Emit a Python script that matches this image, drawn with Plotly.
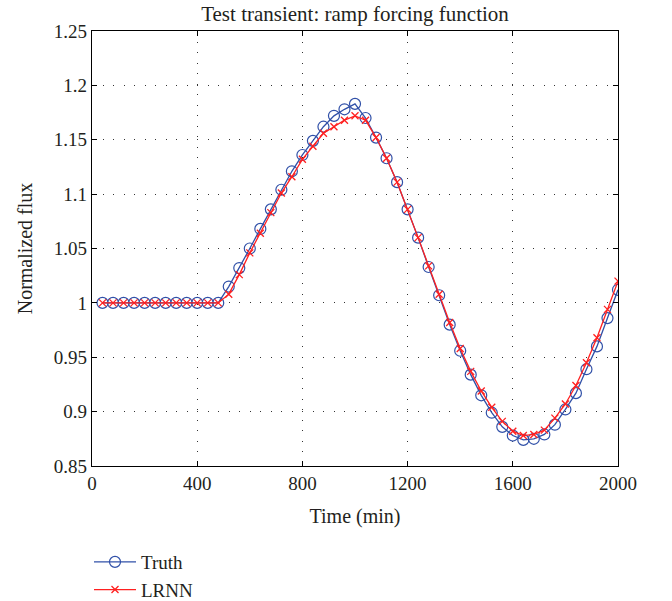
import plotly.graph_objects as go

time = [40, 80, 120, 160, 200, 240, 280, 320, 360, 400, 440, 480,
        520, 560, 600, 640, 680, 720, 760, 800, 840, 880, 920, 960, 1000,
        1040, 1080, 1120, 1160, 1200, 1240, 1280, 1320, 1360, 1400, 1440,
        1480, 1520, 1560, 1600, 1640, 1680, 1720, 1760, 1800, 1840, 1880,
        1920, 1960, 2000]

truth = [1.0, 1.0, 1.0, 1.0, 1.0, 1.0, 1.0, 1.0, 1.0, 1.0, 1.0, 1.0,
         1.015, 1.032, 1.050, 1.068, 1.086, 1.104, 1.121, 1.136, 1.149, 1.162, 1.172, 1.178, 1.183,
         1.170, 1.152, 1.133, 1.111, 1.086, 1.060, 1.033, 1.007, 0.980, 0.956, 0.934,
         0.915, 0.899, 0.886, 0.878, 0.874, 0.875, 0.879, 0.888, 0.902, 0.917, 0.939,
         0.960, 0.986, 1.012]

lrnn = [1.0, 1.0, 1.0, 1.0, 1.0, 1.0, 1.0, 1.0, 1.0, 1.0, 1.0, 1.0,
        1.008, 1.026, 1.046, 1.064, 1.083, 1.101, 1.116, 1.132, 1.144, 1.156, 1.162, 1.168, 1.172,
        1.168, 1.152, 1.133, 1.111, 1.086, 1.060, 1.034, 1.008, 0.982, 0.958, 0.937,
        0.919, 0.904, 0.891, 0.882, 0.878, 0.879, 0.883, 0.894, 0.907, 0.924, 0.945,
        0.968, 0.994, 1.020]

x_ticks = [0, 400, 800, 1200, 1600, 2000]
y_ticks = [0.85, 0.9, 0.95, 1.0, 1.05, 1.1, 1.15, 1.2, 1.25]
y_tick_labels = ["0.85", "0.9", "0.95", "1", "1.05", "1.1", "1.15", "1.2", "1.25"]

FONT = "Liberation Serif"
TXT = "#231F20"
BLUE = "#3050A8"
RED = "#FF2020"

fig = go.Figure()
fig.add_trace(go.Scatter(
    x=time, y=truth, name="Truth", mode="lines+markers",
    line=dict(color=BLUE, width=1.3),
    marker=dict(symbol="circle-open", size=11, color=BLUE, line=dict(width=1.2)),
))
fig.add_trace(go.Scatter(
    x=time, y=lrnn, name="LRNN", mode="lines+markers",
    line=dict(color=RED, width=1.3),
    marker=dict(symbol="x-thin-open", size=7, color=RED, line=dict(width=1.3, color=RED)),
))

axis_common = dict(
    showline=True, linecolor="black", linewidth=1.3, mirror="ticks",
    ticks="inside", ticklen=5, tickcolor="black", tickwidth=1,
    showgrid=True, gridcolor="#333333", griddash="1px,9.5px", gridwidth=1.3,
    zeroline=False,
    tickfont=dict(family=FONT, size=19, color=TXT),
)

fig.update_xaxes(
    range=[0, 2000], tickvals=x_ticks,
    title=dict(text="Time (min)", font=dict(family=FONT, size=20, color=TXT), standoff=16),
    **axis_common,
)
fig.update_yaxes(
    range=[0.85, 1.25], tickvals=y_ticks, ticktext=y_tick_labels,
    title=dict(text="Normalized flux", font=dict(family=FONT, size=20, color=TXT), standoff=15),
    **axis_common,
)

fig.update_layout(
    width=672, height=601,
    margin=dict(l=92, r=54, t=31, b=135, autoexpand=False),
    paper_bgcolor="white", plot_bgcolor="white",
    title=dict(text="Test transient: ramp forcing function",
               font=dict(family=FONT, size=21, color=TXT),
               x=0.5, xref="paper", xanchor="center", y=0.977, yanchor="middle"),
    legend=dict(x=-0.0057, y=-0.177, xanchor="left", yanchor="top",
                font=dict(family=FONT, size=19, color=TXT),
                bgcolor="rgba(0,0,0,0)", tracegroupgap=0, itemwidth=42),
    showlegend=True,
)

fig.write_html("out.html")
